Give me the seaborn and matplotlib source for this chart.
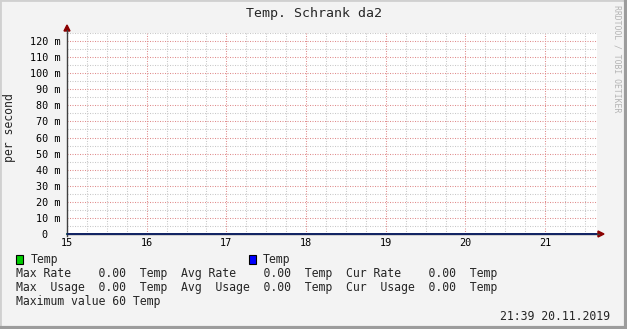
import matplotlib
matplotlib.use("Agg")
import matplotlib.pyplot as plt
import seaborn as sns
import pandas as pd
from matplotlib.ticker import MultipleLocator, FixedLocator
from matplotlib.patches import Rectangle, Polygon

# ---- data ----
hours = [15.0, 16.0, 17.0, 18.0, 19.0, 20.0, 21.0, 21.65]
temp_green = [0, 0, 0, 0, 0, 0, 0, 0]
temp_blue = [0, 0, 0, 0, 0, 0, 0, 0]
x_ticks = [15, 16, 17, 18, 19, 20, 21]
y_ticks = [0, 10, 20, 30, 40, 50, 60, 70, 80, 90, 100, 110, 120]
y_labels = ["0", "10 m", "20 m", "30 m", "40 m", "50 m", "60 m", "70 m",
            "80 m", "90 m", "100 m", "110 m", "120 m"]
title = "Temp. Schrank da2"
ylabel = "per second"
legend_rows = [
    "Max Rate    0.00  Temp  Avg Rate    0.00  Temp  Cur Rate    0.00  Temp",
    "Max  Usage  0.00  Temp  Avg  Usage  0.00  Temp  Cur  Usage  0.00  Temp",
    "Maximum value 60 Temp",
]
timestamp = "21:39 20.11.2019"
watermark = "RRDTOOL / TOBI OETIKER"

sns.set_style("white")
plt.rcParams["font.family"] = ["DejaVu Sans Mono", "DejaVu Sans"]

W, H = 627, 329
fig = plt.figure(figsize=(W / 100, H / 100), dpi=100)
fig.patch.set_facecolor("#f3f3f3")

def px(x, y):
    return (x / W, 1 - y / H)

L, R, T, B = 67, 597, 33, 234
ax = fig.add_axes([L / W, (H - B) / H, (R - L) / W, (B - T) / H])
ax.set_facecolor("white")

df = pd.DataFrame({"hour": hours + hours,
                   "value": temp_green + temp_blue,
                   "series": ["green"] * len(hours) + ["blue"] * len(hours)})
sns.lineplot(data=df, x="hour", y="value", hue="series",
             palette={"green": "#00cc00", "blue": "#14146e"},
             legend=False, ax=ax, linewidth=1.3, clip_on=False, zorder=5)

ax.set_xlim(15, 21.65)
ax.set_ylim(0, 125)
ax.set_xlabel("")
ax.set_ylabel("")
ax.xaxis.set_major_locator(FixedLocator(x_ticks))
ax.xaxis.set_minor_locator(MultipleLocator(0.25))
ax.yaxis.set_major_locator(FixedLocator(y_ticks))
ax.yaxis.set_minor_locator(MultipleLocator(5))
ax.set_xticklabels([str(t) for t in x_ticks])
ax.set_yticklabels(y_labels)

ax.grid(which="minor", color="#c8c8c8", linestyle=(0, (1, 1.4)), linewidth=0.75)
ax.grid(which="major", color="#e08c8c", linestyle=(0, (1, 1.4)), linewidth=0.75)
ax.set_axisbelow(True)

ax.tick_params(axis="both", which="major", length=1.5, width=0.8,
               color="#e08c8c", labelsize=7.3, labelcolor="#000000")
ax.tick_params(axis="both", which="minor", length=1.5, width=0.8, color="#c8c8c8")
ax.tick_params(axis="x", which="major", pad=1.2)
ax.tick_params(axis="y", which="major", pad=3.4)

for s in ["top", "right"]:
    ax.spines[s].set_visible(False)
ax.spines["left"].set_color("#404040")
ax.spines["left"].set_linewidth(1)
ax.spines["bottom"].set_color("#404040")
ax.spines["bottom"].set_linewidth(1)
ax.spines["left"].set_bounds(-1.5, 125)

# the "0" label carries no unit: shift it left by two character cells
fig.canvas.draw()
zero_tick = ax.yaxis.get_major_ticks()[0]
zero_tick.label1.set_x(-12.5 / (R - L))

# axis arrows
ya = Polygon([px(64, 31), px(70, 31), px(67, 25)], closed=True,
             transform=fig.transFigure, color="#8b0000", clip_on=False)
xa = Polygon([px(598, 231), px(598, 237), px(604, 234)], closed=True,
             transform=fig.transFigure, color="#8b0000", clip_on=False)
fig.patches.extend([ya, xa])
fig.add_artist(plt.Line2D([px(597, 0)[0], px(599, 0)[0]], [px(0, 234)[1]] * 2,
                          transform=fig.transFigure, color="#404040", lw=1))
fig.add_artist(plt.Line2D([px(67, 0)[0]] * 2, [px(0, 33)[1], px(0, 30)[1]],
                          transform=fig.transFigure, color="#404040", lw=1))

# texts
fig.text(*px(313.5, 13), title, ha="center", va="center", fontsize=9.5)
fig.text(*px(10, 128), ylabel, ha="center", va="center", rotation=90, fontsize=8.3)
fig.text(*px(617, 5), watermark, ha="center", va="top", rotation=270,
         fontsize=5.9, color="#b4b4b4")

# legend
fig.patches.append(Rectangle(px(16, 264), 7 / W, 9 / H, transform=fig.transFigure,
                             facecolor="#00cc00", edgecolor="black", lw=0.8))
fig.text(*px(31, 259), "Temp", ha="left", va="center", fontsize=8.3)
fig.patches.append(Rectangle(px(249, 264), 7 / W, 9 / H, transform=fig.transFigure,
                             facecolor="#0000ff", edgecolor="black", lw=0.8))
fig.text(*px(263, 259), "Temp", ha="left", va="center", fontsize=8.3)
for i, row in enumerate(legend_rows):
    fig.text(*px(16, 273 + 14 * i), row, ha="left", va="center", fontsize=8.3)
fig.text(*px(610, 316), timestamp, ha="right", va="center", fontsize=8.3)

# image border
fig.patches.append(Rectangle((0, 0), 1, 1, transform=fig.transFigure, fill=False,
                             edgecolor="#d0d0d0", lw=2))
fig.add_artist(plt.Line2D([1 - 1.5 / W] * 2, [0, 1], transform=fig.transFigure,
                          color="#9c9c9c", lw=3))
fig.add_artist(plt.Line2D([0, 1], [1.5 / H] * 2, transform=fig.transFigure,
                          color="#9c9c9c", lw=3))

fig.savefig("out.png", dpi=100, facecolor=fig.get_facecolor())
